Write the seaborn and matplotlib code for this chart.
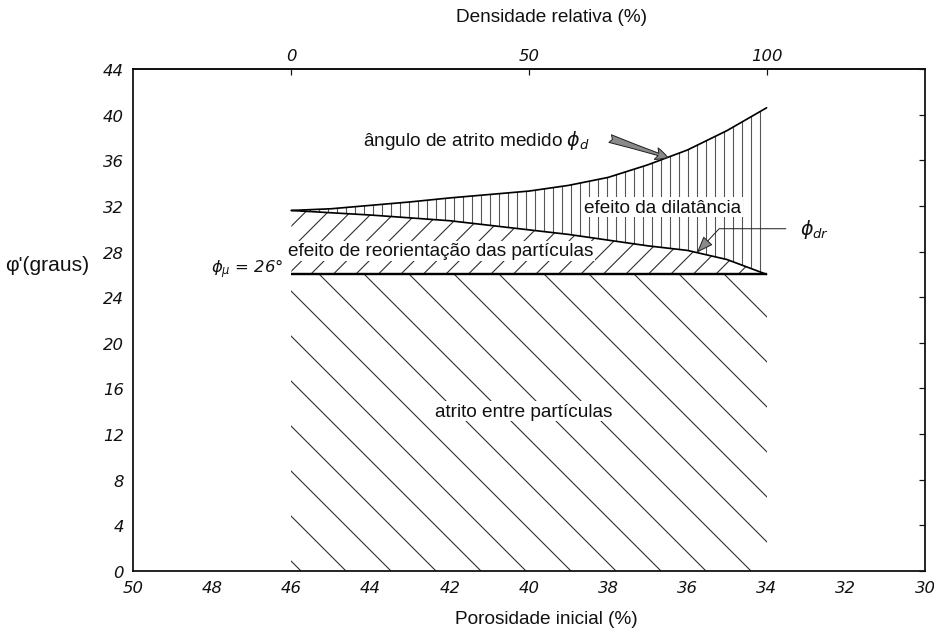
import numpy as np
import matplotlib
matplotlib.use("Agg")
import matplotlib.pyplot as plt
import pandas as pd
import seaborn as sns

# Porosidade inicial (%) e ângulos de atrito (graus)
porosidade = [46, 45, 44, 43, 42, 41, 40, 39, 38, 37, 36, 35, 34]
phi_medido = [31.6, 31.75, 32.05, 32.35, 32.7, 33.0, 33.3, 33.8, 34.5, 35.6, 36.9, 38.6, 40.6]
phi_dr = [31.6, 31.4, 31.2, 30.95, 30.7, 30.3, 29.9, 29.5, 29.0, 28.5, 28.1, 27.3, 26.0]
phi_mu = 26.0

x_ticks = [50, 48, 46, 44, 42, 40, 38, 36, 34, 32, 30]
y_ticks = [0, 4, 8, 12, 16, 20, 24, 28, 32, 36, 40, 44]
densidade_ticks = [0, 50, 100]

DPI = 270
W, H = 934, 635


def px(v):
    """pixels -> points at the figure dpi"""
    return v * 72.0 / DPI


sns.set_theme(style="white")
plt.rcParams["font.family"] = ["Liberation Sans", "DejaVu Sans"]
plt.rcParams["mathtext.fontset"] = "dejavusans"
plt.rcParams["hatch.linewidth"] = px(1.1)
plt.rcParams["hatch.color"] = "#3a3a3a"

df = pd.DataFrame({"porosidade": porosidade, "medido": phi_medido, "dr": phi_dr})
por = df["porosidade"].to_numpy(float)
sup = df["medido"].to_numpy(float)
inf = df["dr"].to_numpy(float)
base = np.full_like(por, phi_mu)

fig = plt.figure(figsize=(W / DPI, H / DPI), dpi=DPI, facecolor="white")
ax = fig.add_axes([133 / W, 1 - 572 / H, (925 - 133) / W, (572 - 70) / H])
ax.set_facecolor("white")

# hatched regions: intergranular friction, particle reorientation, dilatancy
ax.fill_between(por, 0, base, hatch="\\\\", facecolor="none", edgecolor="#2e2e2e", linewidth=0)
ax.fill_between(por, base, inf, hatch="////", facecolor="none", edgecolor="#2e2e2e", linewidth=0)
ax.fill_between(por, inf, sup, hatch="|||||", facecolor="none", edgecolor="#555555", linewidth=0)

sns.lineplot(data=df, x="porosidade", y="medido", ax=ax, color="black",
             lw=px(1.7), sort=False, estimator=None)
sns.lineplot(data=df, x="porosidade", y="dr", ax=ax, color="black",
             lw=px(1.7), sort=False, estimator=None)
ax.hlines(phi_mu, por.min(), por.max(), color="black", lw=px(2.4))

ax.set_xlim(50, 30)
ax.set_ylim(0, 44)
ax.set_xticks(x_ticks)
ax.set_yticks(y_ticks)
ax.set_xlabel("")
ax.set_ylabel("")

for s in ax.spines.values():
    s.set_linewidth(px(1.8))
    s.set_color("#111111")

tick_font = dict(fontsize=px(16.5), fontstyle="italic", family="DejaVu Sans", color="#111111")
ax.tick_params(direction="in", length=px(6), width=px(1.2), color="#111111",
               top=False, right=True, pad=px(9))
ax.set_xticklabels([str(t) for t in x_ticks], **tick_font)
ax.set_yticklabels([str(t) for t in y_ticks], **tick_font)


def por_to_dr(p):
    p0, p1 = porosidade[0], porosidade[-1]
    return (p0 - np.asarray(p, float)) / (p0 - p1) * 100.0


def dr_to_por(d):
    p0, p1 = porosidade[0], porosidade[-1]
    return p0 - np.asarray(d, float) / 100.0 * (p0 - p1)


sec = ax.secondary_xaxis("top", functions=(por_to_dr, dr_to_por))
sec.set_xticks(densidade_ticks)
sec.set_xticklabels([str(t) for t in densidade_ticks], **tick_font)
sec.tick_params(direction="in", length=px(6), width=px(1.2), color="#111111", pad=px(6))
sec.spines["top"].set_linewidth(px(1.8))

txt = dict(fontsize=px(19), color="#111111")
box = dict(boxstyle="square,pad=0.08", fc="white", ec="none")

ax.text(44.19, 37.86, "ângulo de atrito medido $\\phi_d$", ha="left", va="center", **txt)
y_arrow = np.interp(36.5, por[::-1], sup[::-1])
ax.annotate("", xy=(36.5, y_arrow), xytext=(37.95, 37.9),
            arrowprops=dict(arrowstyle="fancy,head_length=0.6,head_width=0.6,tail_width=0.4",
                            fc="#8a8a8a", ec="#222222", lw=px(1.0),
                            mutation_scale=px(20), shrinkA=0, shrinkB=0))

ax.text(36.62, 31.9, "efeito da dilatância", ha="center", va="center", bbox=box, **txt)

y_dr = np.interp(35.76, por[::-1], inf[::-1])
ax.annotate("$\\phi_{dr}$", xy=(35.76, y_dr), xytext=(33.16, 30.0),
            ha="left", va="center", fontsize=px(19), color="#111111",
            arrowprops=dict(arrowstyle="-|>,head_length=0.8,head_width=0.3",
                            connectionstyle="angle,angleA=0,angleB=47,rad=0",
                            fc="#8a8a8a", ec="#222222", lw=px(1.0),
                            mutation_scale=px(18), shrinkA=px(6), shrinkB=0))

ax.text(46.09, 28.05, "efeito de reorientação das partículas", ha="left", va="center",
        bbox=box, **txt)
ax.text(46.2, 26.5, "$\\phi_\\mu$ = 26°", ha="right", va="center", fontsize=px(16.5),
        fontstyle="italic", family="DejaVu Sans", color="#111111")
ax.text(40.13, 14.0, "atrito entre partículas", ha="center", va="center", bbox=box, **txt)

fig.text(5 / W, 1 - 266 / H, "φ'(graus)", ha="left", va="center", fontsize=px(21),
         color="#111111")
fig.text(552 / W, 1 - 18 / H, "Densidade relativa (%)", ha="center", va="center",
         fontsize=px(19), color="#111111")
fig.text(546 / W, 1 - 620 / H, "Porosidade inicial (%)", ha="center", va="center",
         fontsize=px(19), color="#111111")

fig.savefig("out.png", dpi=DPI, facecolor="white")
